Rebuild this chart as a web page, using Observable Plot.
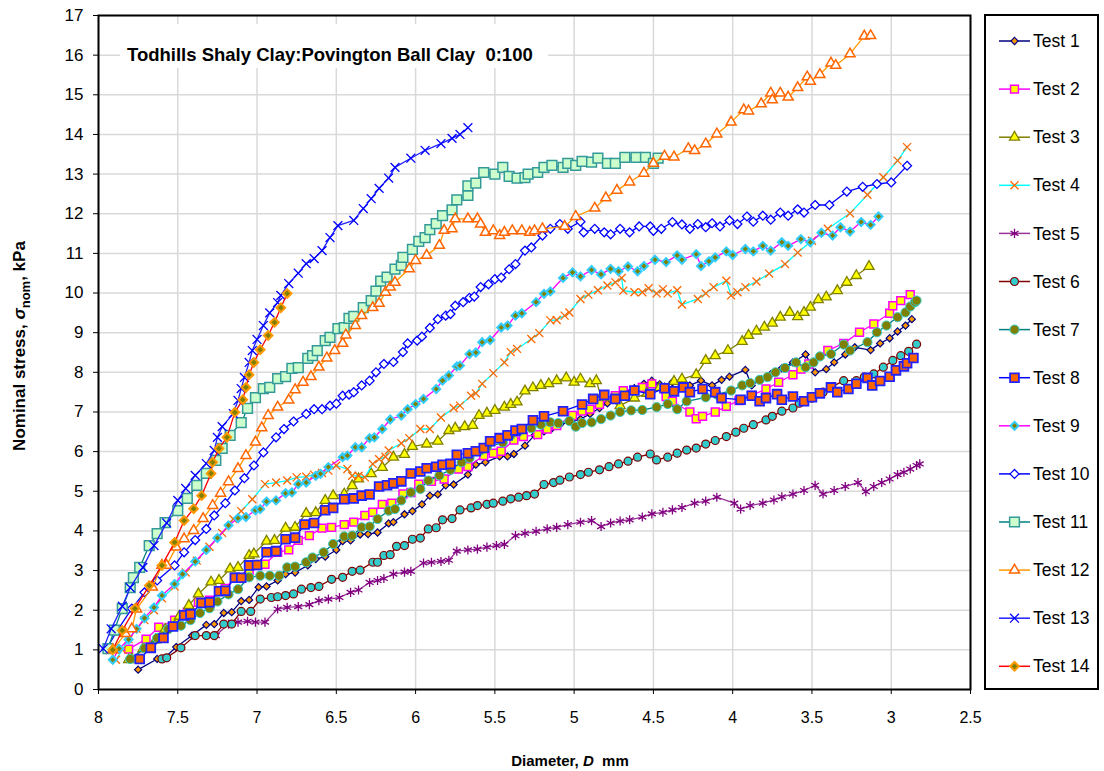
<!DOCTYPE html>
<html><head><meta charset="utf-8">
<script src="https://cdn.jsdelivr.net/npm/d3@7"></script>
<script src="https://cdn.jsdelivr.net/npm/@observablehq/plot@0.6"></script>
<style>
body{margin:0;background:#fff;}
#wrap{position:relative;width:1104px;height:771px;}
</style></head><body><div id="wrap"></div>
<script>
// ---- data: [diameter D (mm), nominal stress (kPa)] ----
const test1 = [[7.75,0.5],[7.63,0.77],[7.59,0.77],[7.51,1.07],[7.41,1.36],[7.32,1.63],[7.27,1.65],[7.21,1.93],[7.16,1.95],[7.10,2.23],[7.05,2.26],[6.99,2.58],[6.94,2.6],[6.87,2.75],[6.82,2.91],[6.76,2.95],[6.68,3.13],[6.63,3.29],[6.57,3.35],[6.50,3.52],[6.46,3.74],[6.41,3.76],[6.35,3.91],[6.30,3.92],[6.24,3.96],[6.17,4.19],[6.14,4.22],[6.07,4.42],[6.02,4.5],[5.96,4.67],[5.91,4.89],[5.86,4.92],[5.81,5.15],[5.76,5.17],[5.67,5.42],[5.62,5.67],[5.56,5.73],[5.47,5.88],[5.42,5.88],[5.38,5.94],[5.31,6.15],[5.25,6.41],[5.19,6.51],[5.14,6.59],[5.09,6.68],[5.02,6.75],[4.96,6.82],[4.90,6.95],[4.84,7.1],[4.79,7.22],[4.73,7.37],[4.68,7.52],[4.62,7.6],[4.56,7.71],[4.51,7.79],[4.46,7.7],[4.43,7.64],[4.38,7.75],[4.33,7.71],[4.27,7.67],[4.20,7.79],[4.13,7.67],[4.07,7.81],[4.02,7.89],[3.92,8.06],[3.88,7.67],[3.82,7.83],[3.76,7.95],[3.69,8.1],[3.62,8.25],[3.54,8.45],[3.48,8.0],[3.41,8.08],[3.36,8.25],[3.29,8.45],[3.23,8.63],[3.13,8.56],[3.07,8.73],[3.01,8.86],[2.96,9.03],[2.91,9.18],[2.87,9.34]];
const test2 = [[7.81,1.02],[7.70,1.27],[7.62,1.57],[7.52,1.75],[7.44,1.95],[7.37,2.2],[7.30,2.25],[7.20,2.55],[7.14,2.82],[7.05,3.0],[6.95,3.16],[6.87,3.46],[6.80,3.52],[6.74,3.76],[6.67,3.88],[6.59,4.07],[6.53,4.09],[6.45,4.16],[6.39,4.22],[6.32,4.39],[6.27,4.47],[6.21,4.67],[6.15,4.7],[6.08,4.93],[6.03,4.97],[5.98,5.18],[5.90,5.25],[5.82,5.31],[5.73,5.56],[5.67,5.62],[5.57,5.9],[5.51,5.96],[5.46,6.01],[5.38,6.29],[5.32,6.38],[5.23,6.43],[5.17,6.57],[5.11,6.66],[5.01,6.91],[4.95,7.02],[4.90,7.07],[4.84,7.19],[4.74,7.41],[4.69,7.54],[4.57,7.62],[4.51,7.71],[4.42,7.39],[4.38,7.27],[4.27,7.0],[4.23,6.83],[4.19,6.89],[4.11,7.0],[4.04,7.14],[3.96,7.29],[3.88,7.42],[3.79,7.58],[3.71,7.75],[3.62,7.94],[3.57,8.08],[3.52,8.21],[3.40,8.55],[3.30,8.73],[3.20,9.01],[3.11,9.22],[3.01,9.49],[2.99,9.68],[2.94,9.81],[2.88,9.96]];
const test3 = [[7.81,0.75],[7.79,0.77],[7.72,1.02],[7.64,1.25],[7.58,1.52],[7.49,1.85],[7.43,2.12],[7.37,2.41],[7.29,2.71],[7.24,2.75],[7.17,3.04],[7.12,3.08],[7.05,3.38],[7.02,3.42],[6.94,3.74],[6.89,3.76],[6.82,4.07],[6.76,4.09],[6.69,4.44],[6.63,4.46],[6.57,4.77],[6.52,4.89],[6.45,4.93],[6.40,5.14],[6.36,5.31],[6.28,5.44],[6.21,5.6],[6.14,5.86],[6.07,5.93],[6.02,6.13],[5.93,6.19],[5.86,6.26],[5.79,6.53],[5.75,6.59],[5.69,6.63],[5.64,6.66],[5.60,6.91],[5.55,6.97],[5.50,7.04],[5.44,7.12],[5.40,7.19],[5.36,7.25],[5.31,7.53],[5.26,7.61],[5.21,7.67],[5.16,7.71],[5.11,7.79],[5.05,7.86],[5.00,7.75],[4.96,7.83],[4.90,7.71],[4.86,7.79],[4.83,7.37],[4.71,7.16],[4.62,7.35],[4.54,7.47],[4.46,7.62],[4.37,7.77],[4.32,7.83],[4.23,7.94],[4.17,8.3],[4.11,8.42],[4.03,8.55],[3.94,8.78],[3.90,8.93],[3.85,9.04],[3.80,9.14],[3.75,9.24],[3.70,9.39],[3.64,9.51],[3.59,9.4],[3.55,9.51],[3.51,9.64],[3.46,9.83],[3.41,9.9],[3.34,10.06],[3.28,10.27],[3.22,10.44],[3.14,10.67]];
const test4 = [[7.89,0.75],[7.85,1.0],[7.81,1.27],[7.76,1.53],[7.71,1.75],[7.65,2.0],[7.60,2.3],[7.52,2.6],[7.45,2.95],[7.38,3.25],[7.30,3.6],[7.22,3.95],[7.15,4.3],[7.10,4.5],[7.03,4.8],[6.95,5.18],[6.88,5.22],[6.81,5.27],[6.75,5.35],[6.69,5.37],[6.64,5.42],[6.59,5.46],[6.55,5.52],[6.50,5.65],[6.43,5.56],[6.40,5.39],[6.36,5.39],[6.32,5.35],[6.27,5.69],[6.23,5.81],[6.19,5.87],[6.17,6.03],[6.09,6.21],[6.04,6.34],[5.97,6.57],[5.91,6.57],[5.84,6.86],[5.76,7.1],[5.72,7.16],[5.65,7.41],[5.62,7.47],[5.58,7.71],[5.51,7.98],[5.44,8.25],[5.40,8.51],[5.36,8.59],[5.27,8.84],[5.22,8.99],[5.15,9.31],[5.11,9.32],[5.06,9.43],[5.03,9.51],[4.96,9.85],[4.91,9.96],[4.85,10.07],[4.79,10.19],[4.74,10.27],[4.70,10.38],[4.69,10.06],[4.62,10.02],[4.57,10.02],[4.53,10.12],[4.48,9.99],[4.44,10.1],[4.41,9.99],[4.35,10.07],[4.32,9.71],[4.22,9.85],[4.17,9.99],[4.12,10.15],[4.04,10.31],[4.01,9.94],[3.97,10.02],[3.92,10.15],[3.85,10.29],[3.77,10.49],[3.67,10.73],[3.59,11.02],[3.50,11.32],[3.40,11.62],[3.26,12.01],[3.15,12.48],[3.05,12.92],[2.96,13.34],[2.90,13.68]];
const test5 = [[7.26,1.36],[7.18,1.65],[7.12,1.7],[7.06,1.72],[7.01,1.7],[6.95,1.7],[6.87,2.03],[6.81,2.07],[6.74,2.09],[6.67,2.14],[6.61,2.24],[6.55,2.28],[6.48,2.32],[6.41,2.45],[6.36,2.51],[6.29,2.7],[6.24,2.75],[6.20,2.8],[6.14,2.91],[6.07,2.96],[6.03,2.98],[5.95,3.19],[5.90,3.21],[5.84,3.23],[5.79,3.26],[5.74,3.49],[5.67,3.52],[5.61,3.54],[5.55,3.59],[5.49,3.63],[5.44,3.66],[5.37,3.88],[5.31,3.94],[5.24,3.99],[5.17,4.05],[5.11,4.09],[5.04,4.16],[4.96,4.22],[4.89,4.26],[4.83,4.11],[4.77,4.2],[4.71,4.25],[4.65,4.28],[4.57,4.35],[4.51,4.43],[4.44,4.47],[4.38,4.53],[4.32,4.59],[4.24,4.7],[4.17,4.75],[4.10,4.85],[3.99,4.7],[3.95,4.55],[3.89,4.64],[3.81,4.7],[3.74,4.78],[3.69,4.86],[3.62,4.93],[3.55,5.02],[3.48,5.15],[3.43,4.93],[3.36,5.02],[3.29,5.12],[3.21,5.22],[3.16,4.99],[3.11,5.12],[3.06,5.22],[3.01,5.31],[2.96,5.42],[2.92,5.48],[2.88,5.56],[2.84,5.65],[2.82,5.69]];
const test6 = [[7.60,0.77],[7.57,0.8],[7.48,1.05],[7.39,1.36],[7.32,1.36],[7.27,1.36],[7.21,1.65],[7.16,1.65],[7.10,1.97],[7.04,1.97],[6.98,2.28],[6.91,2.32],[6.87,2.34],[6.82,2.37],[6.77,2.41],[6.72,2.53],[6.66,2.57],[6.61,2.6],[6.53,2.78],[6.46,2.83],[6.40,2.98],[6.35,3.01],[6.27,3.21],[6.24,3.21],[6.20,3.38],[6.16,3.4],[6.12,3.61],[6.07,3.63],[6.02,3.79],[5.97,3.82],[5.92,4.05],[5.87,4.08],[5.83,4.28],[5.77,4.31],[5.72,4.53],[5.65,4.58],[5.61,4.64],[5.55,4.67],[5.51,4.7],[5.45,4.75],[5.40,4.81],[5.35,4.85],[5.30,4.89],[5.25,4.93],[5.19,5.17],[5.13,5.22],[5.09,5.28],[5.03,5.36],[4.96,5.42],[4.91,5.48],[4.84,5.54],[4.78,5.62],[4.72,5.69],[4.66,5.76],[4.60,5.86],[4.52,5.94],[4.48,5.79],[4.41,5.86],[4.35,5.96],[4.29,6.04],[4.23,6.09],[4.17,6.19],[4.11,6.28],[4.04,6.38],[3.98,6.49],[3.93,6.59],[3.87,6.68],[3.79,6.8],[3.75,6.89],[3.69,7.02],[3.62,7.1],[3.58,7.22],[3.50,7.35],[3.43,7.5],[3.38,7.62],[3.30,7.79],[3.22,7.79],[3.17,7.88],[3.11,7.96],[3.05,8.13],[2.99,8.3],[2.94,8.42],[2.89,8.53],[2.84,8.71]];
const test7 = [[7.80,0.77],[7.71,1.04],[7.63,1.3],[7.56,1.52],[7.48,1.61],[7.42,1.75],[7.36,1.93],[7.30,2.05],[7.25,2.22],[7.18,2.4],[7.12,2.53],[7.05,2.83],[6.98,2.87],[6.92,2.87],[6.86,2.87],[6.81,3.08],[6.76,3.1],[6.69,3.21],[6.65,3.33],[6.58,3.46],[6.52,3.67],[6.45,3.86],[6.40,3.88],[6.34,4.09],[6.29,4.11],[6.24,4.3],[6.17,4.51],[6.13,4.55],[6.09,4.77],[6.03,4.97],[5.97,5.06],[5.92,5.27],[5.85,5.4],[5.78,5.54],[5.71,5.73],[5.66,5.84],[5.59,6.03],[5.55,6.11],[5.45,6.23],[5.40,6.41],[5.35,6.51],[5.27,6.59],[5.21,6.68],[5.15,6.74],[5.10,6.72],[5.03,6.77],[4.99,6.63],[4.95,6.72],[4.89,6.74],[4.83,6.82],[4.77,6.91],[4.71,7.0],[4.64,7.04],[4.57,7.05],[4.48,7.12],[4.41,7.2],[4.35,7.07],[4.29,7.27],[4.17,7.37],[4.10,7.44],[4.01,7.54],[3.94,7.67],[3.89,7.73],[3.83,7.81],[3.78,7.88],[3.73,8.0],[3.67,8.11],[3.60,8.25],[3.54,8.13],[3.49,8.25],[3.45,8.4],[3.38,8.46],[3.30,8.7],[3.26,8.55],[3.15,8.76],[3.09,9.01],[3.03,9.18],[2.96,9.39],[2.91,9.51],[2.88,9.66],[2.85,9.77],[2.84,9.81]];
const test8 = [[7.74,0.77],[7.67,1.05],[7.59,1.3],[7.53,1.59],[7.46,1.87],[7.42,1.9],[7.35,2.18],[7.30,2.2],[7.24,2.48],[7.20,2.49],[7.14,2.82],[7.10,2.82],[7.05,3.13],[7.00,3.14],[6.94,3.46],[6.88,3.49],[6.82,3.79],[6.76,3.83],[6.70,4.16],[6.64,4.2],[6.57,4.52],[6.52,4.58],[6.45,4.8],[6.39,4.82],[6.34,4.89],[6.29,4.92],[6.23,5.12],[6.18,5.15],[6.14,5.2],[6.09,5.25],[6.03,5.45],[5.97,5.5],[5.93,5.58],[5.87,5.62],[5.83,5.67],[5.78,5.69],[5.74,5.92],[5.67,5.96],[5.62,6.01],[5.57,6.09],[5.53,6.26],[5.47,6.34],[5.42,6.41],[5.37,6.53],[5.33,6.57],[5.26,6.79],[5.19,6.89],[5.07,7.02],[4.95,7.19],[4.88,7.33],[4.81,7.43],[4.74,7.33],[4.68,7.41],[4.62,7.54],[4.52,7.45],[4.43,7.6],[4.37,7.52],[4.31,7.62],[4.27,7.5],[4.19,7.58],[4.11,7.5],[4.07,7.35],[3.95,7.31],[3.88,7.41],[3.83,7.27],[3.79,7.35],[3.72,7.45],[3.69,7.31],[3.62,7.39],[3.55,7.27],[3.50,7.37],[3.45,7.47],[3.38,7.62],[3.34,7.5],[3.27,7.58],[3.22,7.71],[3.15,7.86],[3.12,7.67],[3.07,7.78],[3.01,7.89],[2.97,8.05],[2.92,8.15],[2.90,8.23],[2.86,8.36]];
const test9 = [[7.91,0.75],[7.87,1.03],[7.81,1.26],[7.76,1.53],[7.71,1.8],[7.65,2.07],[7.60,2.37],[7.52,2.66],[7.47,2.91],[7.39,3.23],[7.32,3.52],[7.25,3.82],[7.18,4.14],[7.12,4.32],[7.07,4.35],[7.01,4.52],[6.98,4.55],[6.94,4.74],[6.88,4.77],[6.82,4.95],[6.78,4.97],[6.74,5.18],[6.69,5.22],[6.63,5.39],[6.60,5.44],[6.55,5.61],[6.46,5.86],[6.43,5.9],[6.38,6.11],[6.34,6.11],[6.29,6.34],[6.26,6.36],[6.21,6.57],[6.16,6.81],[6.09,6.91],[6.05,7.07],[6.00,7.2],[5.95,7.33],[5.87,7.58],[5.83,7.79],[5.79,7.92],[5.74,8.15],[5.72,8.17],[5.66,8.46],[5.62,8.5],[5.58,8.76],[5.53,8.81],[5.46,9.13],[5.42,9.18],[5.37,9.43],[5.33,9.49],[5.24,9.77],[5.19,9.98],[5.15,10.04],[5.07,10.38],[5.01,10.52],[4.96,10.42],[4.89,10.58],[4.83,10.47],[4.77,10.61],[4.72,10.55],[4.66,10.67],[4.60,10.55],[4.56,10.68],[4.49,10.84],[4.42,10.78],[4.35,10.95],[4.32,10.84],[4.23,10.98],[4.20,10.68],[4.15,10.8],[4.11,10.9],[4.04,11.05],[4.00,10.96],[3.92,11.11],[3.87,11.05],[3.81,11.19],[3.76,11.07],[3.69,11.28],[3.65,11.19],[3.57,11.36],[3.51,11.28],[3.44,11.52],[3.37,11.45],[3.32,11.66],[3.26,11.55],[3.19,11.79],[3.13,11.72],[3.08,11.93]];
const test10 = [[7.95,1.02],[7.88,1.5],[7.79,2.04],[7.71,2.45],[7.63,2.75],[7.52,3.13],[7.46,3.46],[7.39,3.77],[7.32,4.05],[7.27,4.39],[7.20,4.7],[7.14,5.02],[7.08,5.33],[7.02,5.65],[6.96,5.98],[6.88,6.36],[6.83,6.57],[6.77,6.76],[6.69,6.95],[6.64,7.07],[6.59,7.07],[6.54,7.16],[6.50,7.21],[6.46,7.41],[6.42,7.44],[6.39,7.5],[6.34,7.67],[6.29,7.79],[6.25,8.0],[6.20,8.21],[6.14,8.26],[6.08,8.51],[6.05,8.73],[5.99,8.8],[5.96,8.9],[5.91,9.12],[5.86,9.34],[5.81,9.43],[5.78,9.47],[5.75,9.68],[5.70,9.77],[5.66,9.88],[5.63,9.91],[5.59,10.15],[5.54,10.22],[5.50,10.35],[5.46,10.39],[5.41,10.6],[5.37,10.73],[5.31,11.07],[5.27,11.15],[5.20,11.45],[5.15,11.62],[5.09,11.74],[5.04,11.62],[4.96,11.8],[4.94,11.53],[4.87,11.62],[4.81,11.53],[4.77,11.48],[4.71,11.62],[4.65,11.53],[4.59,11.68],[4.52,11.68],[4.50,11.57],[4.45,11.62],[4.38,11.79],[4.32,11.73],[4.27,11.62],[4.22,11.74],[4.17,11.66],[4.13,11.76],[4.08,11.68],[4.02,11.83],[3.97,11.74],[3.91,11.93],[3.87,11.8],[3.81,11.95],[3.76,11.85],[3.70,12.03],[3.65,11.95],[3.59,12.11],[3.55,12.03],[3.48,12.22],[3.39,12.22],[3.28,12.56],[3.18,12.68],[3.09,12.75],[3.00,12.79],[2.90,13.21]];
const test11 = [[7.94,1.03],[7.90,1.5],[7.85,2.04],[7.80,2.57],[7.78,2.82],[7.74,3.08],[7.68,3.63],[7.63,3.93],[7.58,4.21],[7.50,4.51],[7.44,4.82],[7.38,5.15],[7.32,5.45],[7.26,5.78],[7.22,6.08],[7.17,6.41],[7.10,6.73],[7.06,7.09],[7.01,7.36],[6.96,7.59],[6.92,7.62],[6.87,7.84],[6.82,7.89],[6.78,8.1],[6.74,8.12],[6.68,8.35],[6.65,8.42],[6.62,8.55],[6.57,8.8],[6.54,8.88],[6.49,9.1],[6.45,9.13],[6.42,9.36],[6.39,9.41],[6.33,9.63],[6.28,9.81],[6.25,10.05],[6.22,10.3],[6.18,10.4],[6.13,10.6],[6.09,10.7],[6.08,10.9],[6.02,11.1],[5.98,11.3],[5.94,11.4],[5.91,11.6],[5.87,11.75],[5.83,11.95],[5.77,12.1],[5.74,12.35],[5.67,12.46],[5.67,12.7],[5.62,12.77],[5.57,13.04],[5.50,13.0],[5.45,13.17],[5.41,12.94],[5.36,12.9],[5.31,12.91],[5.29,13.0],[5.23,13.04],[5.19,13.17],[5.14,13.22],[5.07,13.17],[5.04,13.27],[4.99,13.22],[4.95,13.32],[4.89,13.3],[4.85,13.4],[4.79,13.27],[4.74,13.27],[4.68,13.42],[4.61,13.42],[4.55,13.42],[4.50,13.27],[4.47,13.4]];
const test12 = [[7.91,1.0],[7.83,1.41],[7.79,1.53],[7.76,2.03],[7.66,2.58],[7.60,3.13],[7.57,3.13],[7.51,3.59],[7.46,3.8],[7.40,4.01],[7.34,4.31],[7.28,4.64],[7.23,4.95],[7.18,5.24],[7.12,5.57],[7.07,5.9],[7.01,6.24],[6.97,6.6],[6.93,6.91],[6.87,7.12],[6.80,7.3],[6.76,7.56],[6.71,7.75],[6.66,7.89],[6.61,8.13],[6.56,8.36],[6.51,8.55],[6.46,8.73],[6.44,8.94],[6.38,9.18],[6.34,9.43],[6.27,9.63],[6.23,9.74],[6.19,10.02],[6.16,10.15],[6.13,10.27],[6.04,10.61],[6.00,10.82],[5.93,10.95],[5.85,11.2],[5.82,11.58],[5.77,11.62],[5.75,11.87],[5.67,11.87],[5.61,11.87],[5.59,11.74],[5.56,11.53],[5.51,11.57],[5.47,11.45],[5.44,11.53],[5.39,11.57],[5.33,11.57],[5.28,11.53],[5.25,11.57],[5.20,11.62],[5.06,11.68],[4.99,11.93],[4.87,12.14],[4.80,12.4],[4.73,12.59],[4.65,12.8],[4.56,13.02],[4.50,13.27],[4.43,13.45],[4.37,13.43],[4.28,13.64],[4.24,13.59],[4.17,13.76],[4.10,14.01],[4.01,14.31],[3.93,14.62],[3.90,14.59],[3.82,14.77],[3.76,15.04],[3.75,14.87],[3.70,15.04],[3.65,14.94],[3.59,15.18],[3.53,15.45],[3.51,15.34],[3.45,15.51],[3.38,15.8],[3.35,15.74],[3.26,16.03],[3.17,16.48],[3.13,16.49]];
const test13 = [[7.97,1.03],[7.92,1.53],[7.85,2.1],[7.80,2.57],[7.72,3.08],[7.65,3.63],[7.57,4.2],[7.50,4.77],[7.45,5.07],[7.39,5.4],[7.32,5.7],[7.27,6.03],[7.25,6.36],[7.22,6.63],[7.15,6.96],[7.12,7.29],[7.10,7.59],[7.08,7.87],[7.05,8.25],[7.03,8.55],[7.00,8.83],[6.96,9.18],[6.92,9.5],[6.87,9.76],[6.85,9.94],[6.80,10.24],[6.74,10.5],[6.69,10.74],[6.64,10.87],[6.59,11.07],[6.54,11.4],[6.49,11.7],[6.39,11.83],[6.33,12.13],[6.28,12.38],[6.23,12.64],[6.17,12.9],[6.13,13.17],[6.03,13.4],[5.94,13.6],[5.84,13.77],[5.77,13.9],[5.72,14.0],[5.67,14.17]];
const test14 = [[7.91,1.0],[7.85,1.49],[7.77,2.04],[7.68,2.62],[7.60,3.13],[7.52,3.71],[7.46,4.26],[7.40,4.56],[7.35,4.89],[7.29,5.45],[7.28,5.73],[7.24,6.08],[7.19,6.36],[7.14,6.99],[7.09,7.31],[7.07,7.62],[7.05,7.94],[7.02,8.25],[6.98,8.57],[6.93,8.93],[6.89,9.26],[6.85,9.63],[6.81,9.99]];

const seriesNames = ["Test 1","Test 2","Test 3","Test 4","Test 5","Test 6","Test 7","Test 8","Test 9","Test 10","Test 11","Test 12","Test 13","Test 14"];
const seriesData = [test1,test2,test3,test4,test5,test6,test7,test8,test9,test10,test11,test12,test13,test14];
const xTicks = [8,7.5,7,6.5,6,5.5,5,4.5,4,3.5,3,2.5];
const yTicks = [0,1,2,3,4,5,6,7,8,9,10,11,12,13,14,15,16,17];
const chartTitle = "Todhills Shaly Clay:Povington Ball Clay  0:100";

// ---- styles ----
const styles = [
  {line:"#000080", symbol:"diamond2", r:3.2, fill:"#FF9900", stroke:"#000080", sw:1.2},
  {line:"#FF00FF", symbol:"square2",  r:5.0, fill:"#FFFF00", stroke:"#FF00FF", sw:1.5},
  {line:"#808000", symbol:"triangle2",r:4.8, fill:"#FFFF00", stroke:"#808000", sw:1.3},
  {line:"#00FFFF", symbol:"times",    r:3.7, fill:"none",    stroke:"#FF6600", sw:1.3},
  {line:"#993399", symbol:"asterisk", r:4.3, fill:"none",    stroke:"#800080", sw:1.3},
  {line:"#800000", symbol:"circle",   r:4.0, fill:"#33CCCC", stroke:"#800000", sw:1.2},
  {line:"#008080", symbol:"circle",   r:4.6, fill:"#808000", stroke:"#33CCCC", sw:1.0},
  {line:"#0000FF", symbol:"square2",  r:5.6, fill:"#FF6600", stroke:"#2222FF", sw:1.8},
  {line:"#FF00FF", symbol:"diamond2", r:3.6, fill:"#808000", stroke:"#33CCFF", sw:2.0},
  {line:"#0000FF", symbol:"diamond2", r:4.0, fill:"#FFFFFF", stroke:"#0000FF", sw:1.3},
  {line:"#008080", symbol:"square2",  r:6.2, fill:"#CCFFCC", stroke:"#339999", sw:1.5},
  {line:"#FF9900", symbol:"triangle2",r:4.8, fill:"#FFFFFF", stroke:"#FF6600", sw:1.5},
  {line:"#2222FF", symbol:"times",    r:4.1, fill:"none",    stroke:"#0000FF", sw:1.3},
  {line:"#FF0000", symbol:"diamond2", r:3.9, fill:"#808000", stroke:"#FF9900", sw:2.0}
];

const FONT = "'Liberation Sans', Arial, Helvetica, sans-serif";
const marks = [
  Plot.gridX(xTicks, {stroke:"#d9d9d9", strokeOpacity:1, strokeWidth:1.5}),
  Plot.gridY(yTicks, {stroke:"#d9d9d9", strokeOpacity:1, strokeWidth:1.5})
];
seriesData.forEach((d, i) => {
  const s = styles[i];
  marks.push(Plot.line(d, {x: p => p[0], y: p => p[1], stroke: s.line, strokeWidth: 1.3}));
  marks.push(Plot.dot(d, {x: p => p[0], y: p => p[1], symbol: s.symbol, r: s.r, fill: s.fill, stroke: s.stroke, strokeWidth: s.sw}));
});
marks.push(Plot.frame({stroke:"#000", strokeWidth:2}));
marks.push(Plot.axisX(xTicks, {tickSize:5, tickPadding:17, fontSize:16, label:null, tickFormat: d => String(d), stroke:"#000", fill:"#000"}));
marks.push(Plot.axisY(yTicks, {tickSize:5, tickPadding:10, fontSize:17, label:null, stroke:"#000", fill:"#000"}));

const chart = Plot.plot({
  width: 1104, height: 771,
  marginLeft: 98, marginRight: 134, marginTop: 15, marginBottom: 82,
  x: {domain: [8, 2.5]},
  y: {domain: [0, 17]},
  style: {fontFamily: FONT, fontSize: "16px", color: "#000", background: "#fff"},
  marks
});
document.getElementById("wrap").appendChild(chart);

// ---- extra text & legend drawn into the SVG ----
const svg = d3.select(chart);
const g = svg.append("g").attr("font-family", FONT).attr("fill", "#000").attr("text-anchor", "start");

// title box inside the plot
g.append("rect").attr("x", 120).attr("y", 24).attr("width", 428).attr("height", 44).attr("fill", "#fff").attr("stroke", "none");
g.append("text").attr("x", 127).attr("y", 61).attr("font-size", 18.5).attr("font-weight", "bold")
  .attr("text-anchor", "start").style("white-space","pre").text(chartTitle);

// x-axis title
const xt = g.append("text").attr("x", 570).attr("y", 766).attr("text-anchor", "middle")
  .attr("font-size", 15).attr("font-weight", "bold").style("white-space","pre");
xt.append("tspan").text("Diameter, ");
xt.append("tspan").attr("font-style", "italic").text("D");
xt.append("tspan").text("  mm");

// y-axis title
const yt = g.append("text").attr("transform", "translate(25,346) rotate(-90)").attr("text-anchor", "middle")
  .attr("font-size", 17).attr("font-weight", "bold");
yt.append("tspan").text("Nominal stress, ");
yt.append("tspan").attr("font-style", "italic").text("σ");
yt.append("tspan").attr("font-size", 13).attr("dy", 5).text("nom");
yt.append("tspan").attr("dy", -5).text(", kPa");

// legend
const lg = svg.append("g").attr("font-family", FONT).attr("text-anchor", "start");
lg.append("rect").attr("x", 985).attr("y", 15).attr("width", 113).attr("height", 674)
  .attr("fill", "#fff").attr("stroke", "#000").attr("stroke-width", 2);
const symMap = {diamond2: d3.symbolDiamond2, square2: d3.symbolSquare2, triangle2: d3.symbolTriangle2,
  times: d3.symbolTimes, asterisk: d3.symbolAsterisk, circle: d3.symbolCircle};
seriesNames.forEach((name, i) => {
  const s = styles[i];
  const y = 41 + i * 48.1;
  lg.append("line").attr("x1", 999).attr("x2", 1030).attr("y1", y).attr("y2", y)
    .attr("stroke", s.line).attr("stroke-width", 1.5);
  lg.append("path").attr("transform", `translate(1014.5,${y})`)
    .attr("d", d3.symbol(symMap[s.symbol], Math.PI * s.r * s.r)())
    .attr("fill", s.fill).attr("stroke", s.stroke).attr("stroke-width", s.sw);
  lg.append("text").attr("x", 1033).attr("y", y).attr("dy", "0.35em").attr("text-anchor", "start")
    .attr("font-size", 17.5).attr("fill", "#000").text(name);
});
</script></body></html>
